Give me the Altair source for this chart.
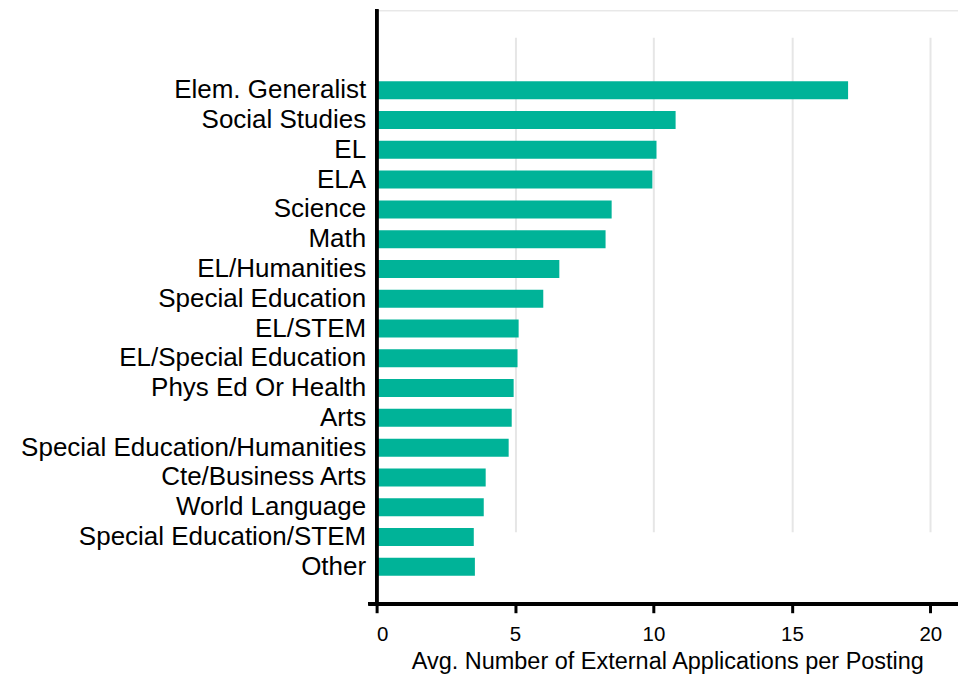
import altair as alt
import pandas as pd

# Average external applications per posting, by subject area
subjects = [
    "Elem. Generalist", "Social Studies", "EL", "ELA", "Science", "Math",
    "EL/Humanities", "Special Education", "EL/STEM", "EL/Special Education",
    "Phys Ed Or Health", "Arts", "Special Education/Humanities",
    "Cte/Business Arts", "World Language", "Special Education/STEM", "Other",
]
avg_apps = [
    17.03, 10.80, 10.11, 9.96, 8.49, 8.27,
    6.60, 6.02, 5.13, 5.09,
    4.95, 4.88, 4.77,
    3.94, 3.87, 3.51, 3.55,
]
x_ticks = [0, 5, 10, 15, 20]

df = pd.DataFrame({"subject": subjects, "avg": avg_apps})

FONT = "Liberation Sans"
PLOT_W, PLOT_H = 582, 593

bars = alt.Chart(df).mark_bar(color="#00B398").encode(
    x=alt.X(
        "avg:Q",
        scale=alt.Scale(domain=[0, 21], nice=False, zero=True),
        axis=alt.Axis(
            values=x_ticks,
            title="Avg. Number of External Applications per Posting",
            grid=True,
            gridColor="#E6E6E6",
            gridWidth=2,
            domain=False,
            tickColor="black",
            tickWidth=3,
            tickSize=10,
            labelFont=FONT,
            labelFontSize=20.5,
            labelColor="black",
            labelPadding=12,
            titleFont=FONT,
            titleFontSize=23.5,
            titleFontWeight="normal",
            titleColor="black",
            titlePadding=4,
            titleAnchor="middle",
        ),
    ),
    y=alt.Y(
        "subject:N",
        sort=subjects,
        # bands occupy only part of the plot height, leaving room above and below
        scale=alt.Scale(range=[71, 566], paddingInner=0.396, paddingOuter=0),
        axis=alt.Axis(
            title=None,
            ticks=False,
            grid=False,
            domain=False,
            labelFont=FONT,
            labelFontSize=26,
            labelColor="black",
            labelPadding=11,
            labelLimit=400,
        ),
    ),
)

# axis spines drawn as rules so they span the full plot frame
y_spine = alt.Chart(df).mark_rule(color="black", strokeWidth=3).encode(
    x=alt.value(0), y=alt.value(-1), y2=alt.value(PLOT_H + 3)
)
x_spine = alt.Chart(df).mark_rule(color="black", strokeWidth=3).encode(
    x=alt.value(-8), x2=alt.value(PLOT_W), y=alt.value(PLOT_H + 1)
)

chart = alt.layer(bars, y_spine, x_spine).properties(
    width=PLOT_W,
    height=PLOT_H,
    autosize=alt.AutoSizeParams(type="none"),
    padding={"left": 377, "top": 10, "right": 0, "bottom": 72},
).configure_view(stroke=None).configure(background="white")

chart.save("out.html", embed_options={"renderer": "svg", "actions": False})
